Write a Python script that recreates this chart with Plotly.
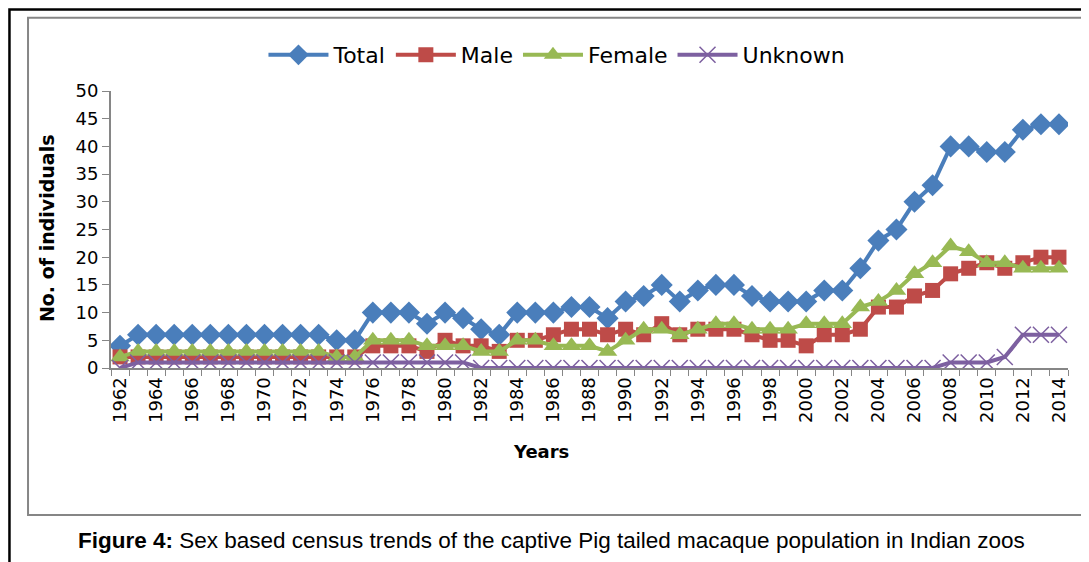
import plotly.graph_objects as go

years = list(range(1962, 2015))

total = [4, 6, 6, 6, 6, 6, 6, 6, 6, 6, 6, 6, 5, 5, 10, 10, 10, 8, 10, 9,
         7, 6, 10, 10, 10, 11, 11, 9, 12, 13, 15, 12, 14, 15, 15, 13, 12, 12,
         12, 14, 14, 18, 23, 25, 30, 33, 40, 40, 39, 39, 43, 44, 44]
male = [2, 2, 2, 2, 2, 2, 2, 2, 2, 2, 2, 2, 2, 2, 4, 4, 4, 3, 5, 4,
        4, 3, 5, 5, 6, 7, 7, 6, 7, 6, 8, 6, 7, 7, 7, 6, 5, 5,
        4, 6, 6, 7, 11, 11, 13, 14, 17, 18, 19, 18, 19, 20, 20]
female = [2, 3, 3, 3, 3, 3, 3, 3, 3, 3, 3, 3, 2, 2, 5, 5, 5, 4, 4, 4,
          3, 3, 5, 5, 4, 4, 4, 3, 5, 7, 7, 6, 7, 8, 8, 7, 7, 7,
          8, 8, 8, 11, 12, 14, 17, 19, 22, 21, 19, 19, 18, 18, 18]
unknown = [0, 1, 1, 1, 1, 1, 1, 1, 1, 1, 1, 1, 1, 1, 1, 1, 1, 1, 1, 1,
           0, 0, 0, 0, 0, 0, 0, 0, 0, 0, 0, 0, 0, 0, 0, 0, 0, 0,
           0, 0, 0, 0, 0, 0, 0, 0, 1, 1, 1, 2, 6, 6, 6]

series = [
    ("Total", total, "#4A7EBB", dict(symbol="diamond", size=17)),
    ("Male", male, "#BE4B48", dict(symbol="square", size=15)),
    ("Female", female, "#98B954", dict(symbol="triangle-up", size=17)),
    ("Unknown", unknown, "#7D60A0", dict(symbol="x-thin", size=16)),
]

font_main = "DejaVu Sans, Verdana, sans-serif"
gray = "#868686"

fig = go.Figure()
for name, vals, color, mk in series:
    marker = dict(color=color, **mk)
    if mk["symbol"] == "x-thin":
        marker["line"] = dict(color=color, width=1.5)
    fig.add_trace(go.Scatter(
        x=years, y=vals, name=name, mode="lines+markers",
        line=dict(color=color, width=4),
        marker=marker,
    ))

# the page body has an 8px margin, so the margins are offset by it
fig.update_layout(
    width=1089, height=562,
    margin=dict(l=103, r=29, t=83, b=202),
    paper_bgcolor="white", plot_bgcolor="white",
    font=dict(family=font_main, size=18, color="black"),
    legend=dict(
        orientation="h", x=0.466, xanchor="center", y=1.13, yanchor="middle",
        font=dict(size=22), itemwidth=60, bgcolor="rgba(0,0,0,0)",
    ),
    xaxis=dict(
        range=[1961.5, 2014.5],
        tickvals=years[::2], tickangle=-90,
        ticks="", showgrid=False, zeroline=False,
        showline=True, linecolor=gray, linewidth=2,
        tickfont=dict(size=18),
        minor=dict(tick0=1961.5, dtick=1, ticks="outside", ticklen=6,
                   tickcolor=gray, tickwidth=1, showgrid=False),
    ),
    yaxis=dict(
        range=[0, 50], dtick=5,
        ticks="outside", ticklen=7, tickcolor=gray, tickwidth=1,
        showgrid=False, zeroline=False,
        showline=True, linecolor=gray, linewidth=2,
        tickfont=dict(size=18),
    ),
    shapes=[
        dict(type="rect", xref="paper", yref="paper",
             x0=-0.0867, x1=1.03, y0=-0.531, y1=1.264,
             line=dict(color=gray, width=2)),
        dict(type="rect", xref="paper", yref="paper",
             x0=-0.1061, x1=1.04, y0=-0.75, y1=1.294,
             line=dict(color="black", width=2.5)),
    ],
    annotations=[
        dict(text="<b>No. of individuals</b>", xref="paper", yref="paper",
             x=-0.0669, y=0.505, xanchor="center", yanchor="middle",
             textangle=-90, showarrow=False, font=dict(size=19)),
        dict(text="<b>Years</b>", xref="paper", yref="paper",
             x=0.449, y=-0.303, xanchor="center", yanchor="middle",
             showarrow=False, font=dict(size=18)),
        dict(text="<b>Figure 4:</b> Sex based census trends of the captive Pig tailed macaque population in Indian zoos",
             xref="paper", yref="paper", x=0.46, y=-0.621,
             xanchor="center", yanchor="middle", showarrow=False,
             font=dict(family="Liberation Sans Narrow, Arial Narrow, sans-serif", size=22.5)),
    ],
)

fig.write_html("out.html")
